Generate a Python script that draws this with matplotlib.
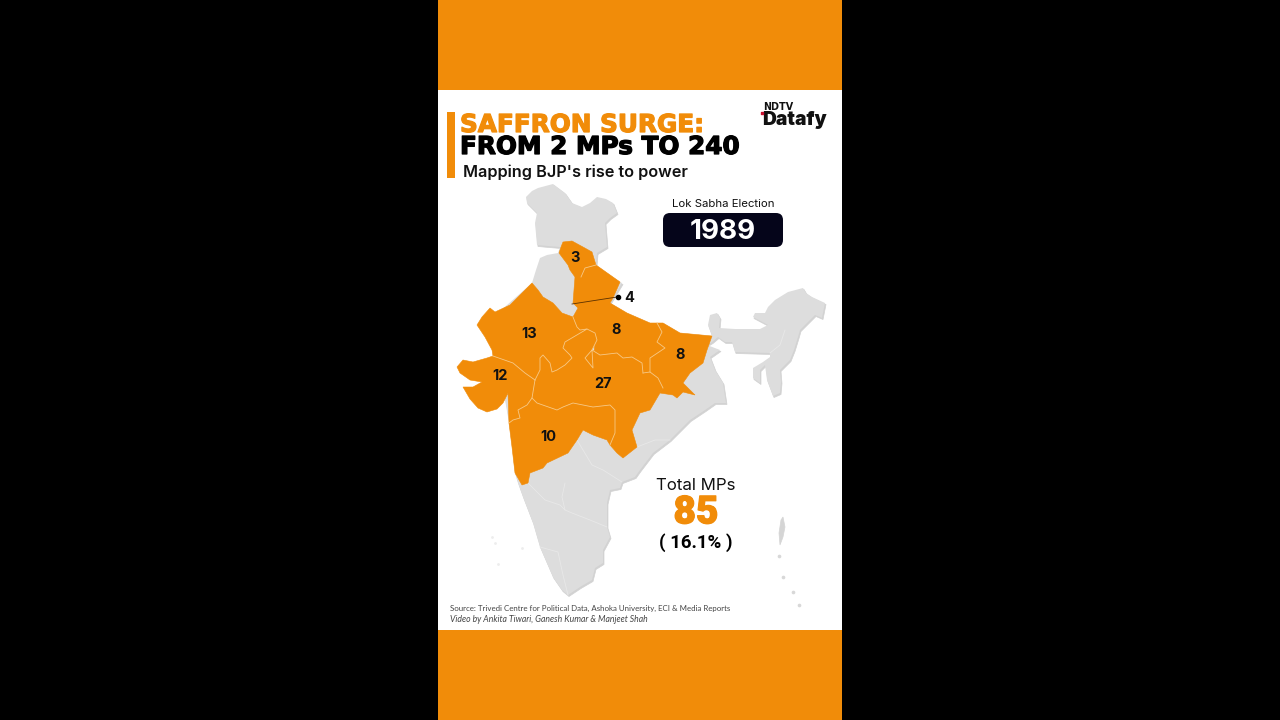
import matplotlib
matplotlib.use('Agg')
import matplotlib.pyplot as plt
import matplotlib.patheffects as pe
from matplotlib.patches import FancyBboxPatch, Rectangle

ORANGE = '#F18C09'
GREY = '#DDDDDD'
plt.rcParams['font.family'] = ['Inter', 'DejaVu Sans']

# map outlines (pixel positions)
india_outline = [(526,197),(532,191),(538,188),(553,184),(565,193),(572,203),(582,207),(590,203),(597,197),(606,199),(613,203),(617,213),
    (610,218),(605,223),(606,235),(607,247),(597,253),(596,265),(620,282),(622,283),(613,298),(610,303),(627,313),(650,323),(663,323),
    (680,333),(712,336),(708,325),(710,315),(717,313),(720,318),(719,328),(735,329),(760,329),(768,325),(753,317),(755,313),(765,313),
    (768,307),(775,300),(788,292),(803,288),(806,293),(812,297),(825,303),(822,318),(815,315),(807,323),(800,330),(798,337),(794,350),
    (790,360),(780,370),(781,382),(780,393),(773,396),(767,380),(765,365),(760,370),(760,383),(753,378),(753,368),(763,362),(770,357),
    (770,353),(735,352),(732,342),(725,342),(718,337),(712,342),(707,345),(720,350),(710,357),(715,370),(723,383),(726,403),(715,403),
    (705,410),(690,420),(670,440),(653,453),(640,470),(635,477),(622,482),(620,488),(610,490),(607,503),(607,527),(610,537),(603,550),
    (603,563),(595,568),(592,580),(580,587),(568,595),(562,590),(553,577),(540,547),(533,523),(523,497),(518,483),(515,473),(512,447),
    (509,423),(500,370),(490,320),(532,283),(536,270),(540,258),(547,255),(558,253),(560,247),(548,246),(537,245),(535,223),(537,213),
    (527,203)]
andaman = [(783,517),(785,527),(783,537),(780,545),(779,533),(781,520)]
island_x = [779, 783, 793, 799]
island_y = [556, 577, 592, 605]
lakshadweep_x = [492, 495, 522, 498]
lakshadweep_y = [537, 543, 548, 564]

himachal = [(563,242),(572,241),(583,247),(592,252),(596,265),(585,268),(581,277),(575,277),(570,270),(568,265),(559,253),(561,247)]
up_uk = [(575,277),(581,277),(585,268),(596,265),(620,282),(613,298),(610,303),(627,313),(650,323),(657,323),(662,332),(657,342),
    (665,348),(650,358),(650,372),(643,373),(642,363),(632,357),(623,358),(617,353),(600,355),(592,350),(585,358),(593,368),
    (595,340),(587,330),(580,330),(577,327),(573,317),(578,308),(573,303),(574,290)]
rajasthan = [(532,283),(538,290),(543,297),(553,303),(562,313),(573,317),(577,327),(580,330),(587,329),(565,342),(563,348),(570,355),
    (572,358),(565,365),(557,370),(552,372),(550,363),(543,355),(540,358),(540,370),(535,380),(525,373),(513,363),(493,356),
    (492,350),(485,337),(477,325),(482,317),(490,308),(495,312),(510,305),(518,297)]
gujarat = [(493,356),(513,363),(525,373),(535,380),(532,398),(527,405),(518,410),(520,418),(513,420),(509,423),(508,393),(503,403),
    (497,409),(487,412),(478,408),(470,399),(463,387),(473,387),(482,382),(470,380),(460,373),(457,367),(463,360),(473,362),(487,358)]
madhya_chhattisgarh = [(535,380),(540,370),(540,358),(543,355),(550,363),(552,372),(557,370),(565,365),(572,358),(570,355),(563,348),
    (565,342),(587,329),(595,333),(597,340),(592,350),(585,358),(593,368),(592,350),(600,355),(617,353),(623,358),(632,357),
    (642,363),(643,373),(650,372),(658,378),(663,388),(660,393),(650,410),(640,413),(632,430),(637,447),(623,458),(617,453),
    (610,445),(615,433),(615,410),(610,405),(593,407),(573,403),(563,407),(557,410),(537,403),(532,398)]
maharashtra = [(509,423),(513,420),(520,418),(518,410),(527,405),(532,398),(537,403),(557,410),(563,407),(573,403),(593,407),(610,405),
    (615,410),(615,433),(610,445),(607,440),(593,435),(583,430),(577,440),(568,453),(547,463),(543,468),(530,473),(528,483),
    (522,485),(515,473),(512,447)]
bihar_jharkhand = [(657,323),(663,323),(680,333),(712,336),(707,350),(703,363),(690,373),(683,383),(695,395),(683,392),(677,398),(673,395),
    (660,393),(663,388),(658,378),(650,372),(650,358),(665,348),(657,342),(662,332)]
saffron_states = [himachal, up_uk, rajasthan, gujarat, madhya_chhattisgarh, maharashtra, bihar_jharkhand]

# pale lines between the saffron states
saffron_borders = [[(581,277),(585,268),(596,265)],
    [(573,317),(577,327),(580,330),(587,329),(565,342),(563,348),(570,355),(572,358),(565,365),(557,370),(552,372),(550,363),(543,355),(540,358),(540,370),(535,380)],
    [(535,380),(525,373),(513,363),(493,356)],
    [(535,380),(532,398),(527,405),(518,410),(520,418),(513,420),(509,423)],
    [(532,398),(537,403),(557,410),(563,407),(573,403),(593,407),(610,405),(615,410),(615,433),(610,445)],
    [(587,329),(595,333),(597,340),(592,350),(585,358),(593,368),(592,350),(600,355),(617,353),(623,358),(632,357),(642,363),(643,373)],
    [(657,323),(662,332),(657,342),(665,348),(650,358),(650,372)],
    [(643,373),(650,372),(658,378),(663,388)]]

grey_borders = [[(565,483),(562,497),(565,510),(572,513),(590,520),(607,527)],
    [(540,547),(558,552),(563,575),(568,595)],
    [(528,483),(545,500),(560,505),(565,510)],
    [(577,440),(592,465),(603,470),(622,482)],
    [(637,447),(655,440),(670,440)],
    [(770,353),(780,345),(785,330)]]

# seats per state
seat_labels = ['3', '4', '13', '8', '8', '12', '27', '10']
seat_x = [575, 629, 529, 616, 680, 500, 603, 548]
seat_y = [258, 298, 334, 330, 355, 376, 384, 437]

fig = plt.figure(figsize=(12.8, 7.2), dpi=100, facecolor='black')
ax = fig.add_axes([0, 0, 1, 1])
ax.set_xlim(0, 1280)
ax.set_ylim(720, 0)
ax.axis('off')

# panel and bands
ax.add_patch(Rectangle((438, 0), 404, 720, color=ORANGE, lw=0))
ax.add_patch(Rectangle((438, 90), 404, 540, color='white', lw=0))
ax.add_patch(Rectangle((447, 112), 8, 66, color=ORANGE, lw=0))

# grey base with a soft shadow underneath
ax.fill([p[0] + 1 for p in india_outline], [p[1] + 1.5 for p in india_outline], color='#D2D2D2', lw=0.5)
ax.fill([p[0] for p in india_outline], [p[1] for p in india_outline], color=GREY, lw=0)
for line in grey_borders:
    ax.plot([p[0] for p in line], [p[1] for p in line], color='#E8E8E8', lw=0.6)
ax.fill([p[0] for p in andaman], [p[1] for p in andaman], color='#D5D5D5', lw=0.5)
ax.scatter(island_x, island_y, s=7, color='#D8D8D8', lw=0)
ax.scatter(lakshadweep_x, lakshadweep_y, s=4, color='#EDEDED', lw=0)

for state in saffron_states:
    ax.fill([p[0] for p in state], [p[1] for p in state], color=ORANGE, lw=0.4, zorder=3)
for line in saffron_borders:
    ax.plot([p[0] for p in line], [p[1] for p in line], color='#F8C884', lw=0.6, zorder=4)

# leader line for the hill state label
ax.plot([572, 617], [304, 297], color='#5A3000', lw=0.6, zorder=5)
ax.scatter([618], [297], s=9, color='black', zorder=5)

for lab, x, y in zip(seat_labels, seat_x, seat_y):
    ax.text(x, y, lab, ha='center', va='center', fontsize=10.5, fontweight='bold', color='#111111', zorder=6)

# header, DejaVu bold is the closest match for the wide headline letters; a thin stroke makes it heavier
ax.text(460, 132, 'SAFFRON SURGE:', fontsize=17.8, fontweight='bold', family='DejaVu Sans', color=ORANGE, va='baseline',
        path_effects=[pe.withStroke(linewidth=0.9, foreground=ORANGE)])
ax.text(460, 154, 'FROM 2 MPs TO 240', fontsize=17.8, fontweight='bold', family='DejaVu Sans', color='black', va='baseline',
        path_effects=[pe.withStroke(linewidth=0.9, foreground='black')])
ax.text(463, 177, "Mapping BJP's rise to power", fontsize=11.7, fontweight='semibold', color='#111111', va='baseline')

# logo
ax.text(763, 110, 'NDTV', fontsize=6.9, fontweight='bold', family='DejaVu Sans', color='#111111', va='baseline')
ax.text(762, 125, 'Datafy', fontsize=13.8, fontweight='black', color='#111111', va='baseline')
ax.scatter([762], [113], s=3, marker='s', color='#C8102E', zorder=6)

# year box
ax.text(723, 204, 'Lok Sabha Election', fontsize=8.2, ha='center', va='center', color='#111111')
ax.add_patch(FancyBboxPatch((663, 213), 120, 34, boxstyle='round,pad=0,rounding_size=7',
                            facecolor='#05051A', edgecolor='none', lw=0))
ax.text(723, 232, '1989', fontsize=20, fontweight='bold', color='white', ha='center', va='center')

# totals
ax.text(696, 486, 'Total MPs', fontsize=12.2, ha='center', va='center', color='#111111')
ax.text(696, 513, '85', fontsize=28, fontweight='black', family='Roboto', color=ORANGE, ha='center', va='center',
        path_effects=[pe.withStroke(linewidth=0.8, foreground=ORANGE)])
ax.text(696, 543, '( 16.1% )', fontsize=13.5, fontweight='bold', family='Roboto', color='black', ha='center', va='center')

# footer
ax.text(450, 608, 'Source: Trivedi Centre for Political Data, Ashoka University, ECI & Media Reports',
        fontsize=5.65, family='Lato', color='#444444', va='center')
ax.text(450, 619, 'Video by Ankita Tiwari, Ganesh Kumar & Manjeet Shah', fontsize=6.2, family='Lato', style='italic', color='#444444', va='center')

fig.savefig('out.png', dpi=100, facecolor='black')
